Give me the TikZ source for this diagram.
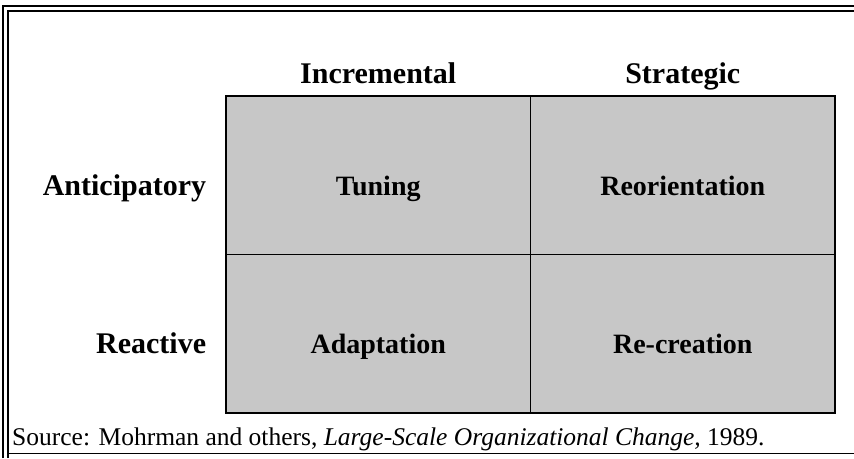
\documentclass[tikz,border=0pt]{standalone}
\usepackage{fontspec}
\setmainfont{Liberation Serif}
\usetikzlibrary{matrix,positioning}
\tikzset{
  cell/.style={draw, fill=black!22, line width=1.4pt, minimum width=304.5pt, minimum height=158.5pt, inner sep=0pt},
  axislabel/.style={font=\fontsize{30}{36}\selectfont\bfseries, inner sep=0pt},
  celllabel/.style={font=\fontsize{28}{34}\selectfont\bfseries, inner sep=0pt, anchor=base},
  frameline/.style={line width=#1}
}

\begin{document}
\begin{tikzpicture}[x=1pt,y=-1pt]
        \useasboundingbox (0,0) rectangle (854,458);
        % double frame
        \draw[frameline=1.5pt] (3,458) -- (3,6) -- (854,6);
        \draw[frameline=2.5pt] (8,458) -- (8,11) -- (854,11);
        \draw[frameline=1pt] (8,453) -- (854,453);
        \matrix (m) [matrix of nodes, nodes in empty cells, nodes={cell}, row sep=-1.4pt, column sep=-1.4pt] at (530.5,254.5) {
          & \\
          & \\
        };
        \node[axislabel, anchor=base] (inc) at ([yshift=12pt]m-1-1.north) {Incremental};
        \node[axislabel, anchor=base] (str) at ([yshift=12pt]m-1-2.north) {Strategic};
        \node[axislabel, anchor=base east] (ant) at ([xshift=-19pt,yshift=-20pt]m-1-1.west) {Anticipatory};
        \node[axislabel, anchor=base east] (rea) at ([xshift=-19pt,yshift=-20pt]m-2-1.west) {Reactive};
        \node[celllabel] (tun) at ([yshift=-20pt]m-1-1.center) {Tuning};
        \node[celllabel] (reo) at ([yshift=-20pt]m-1-2.center) {Reorientation};
        \node[celllabel] (ada) at ([yshift=-20pt]m-2-1.center) {Adaptation};
        \node[celllabel] (rec) at ([yshift=-20pt]m-2-2.center) {Re-creation};
        \node[anchor=base west, inner sep=0pt, font=\fontsize{25.5}{30}\selectfont] (src) at (12,445)
          {Source: Mohrman and others, \textit{Large-Scale Organizational Change,} 1989.};
      \end{tikzpicture}
\end{document}
